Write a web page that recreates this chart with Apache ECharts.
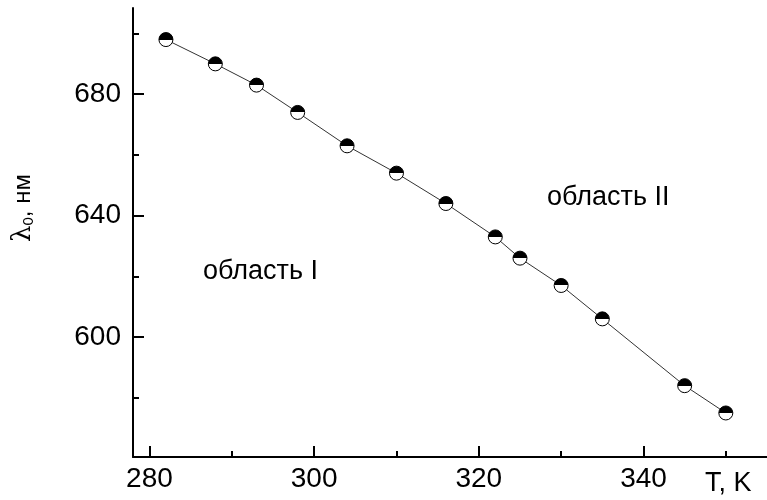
<!DOCTYPE html>
<html>
<head>
<meta charset="utf-8">
<script src="https://cdn.jsdelivr.net/npm/echarts@6/dist/echarts.min.js"></script>
<style>
html,body{margin:0;padding:0;background:#fff;}
#chart{width:767px;height:500px;}
</style>
</head>
<body>
<div id="chart"></div>
<script>
// Data
const temperatures = [282, 288, 293, 298, 304, 310, 316, 322, 325, 330, 335, 345, 350];
const lambda0 = [698, 690, 683, 674, 663, 654, 644, 633, 626, 617, 606, 584, 575];
const xMajorTicks = [280, 300, 320, 340];
const xMinorTicks = [290, 310, 330, 350];
const yMajorTicks = [600, 640, 680];
const yMinorTicks = [580, 620, 660, 700];
const yAxisTitle = ['λ', '0', ', нм'];
const xAxisTitle = 'T, K';
const regionLabels = ['область I', 'область II'];

const FONT = 'Liberation Sans, Arial, sans-serif';
const chart = echarts.init(document.getElementById('chart'), null, {renderer: 'canvas'});

const halfFill = {
  type: 'linear', x: 0, y: 0, x2: 0, y2: 1,
  colorStops: [
    {offset: 0, color: '#000'},
    {offset: 0.5, color: '#000'},
    {offset: 0.5, color: '#fff'},
    {offset: 1, color: '#fff'}
  ]
};

const xRange = {min: 278, max: 355};
const yRange = {min: 560.5, max: 708.4};

const option = {
  animation: false,
  backgroundColor: '#fff',
  grid: {left: 133, right: 0, top: 8, bottom: 43, containLabel: false},
  xAxis: [
    {
      type: 'value', ...xRange,
      axisLine: {show: true, lineStyle: {color: '#000', width: 2}},
      axisTick: {show: true, inside: true, length: 11, customValues: xMajorTicks, lineStyle: {color: '#000', width: 2}},
      axisLabel: {show: true, customValues: xMajorTicks, fontSize: 28, color: '#000', fontFamily: FONT, margin: 8},
      splitLine: {show: false}
    },
    {
      type: 'value', ...xRange, position: 'bottom',
      axisLine: {show: false},
      axisTick: {show: true, inside: true, length: 6, customValues: xMinorTicks, lineStyle: {color: '#000', width: 2}},
      axisLabel: {show: false},
      splitLine: {show: false}
    }
  ],
  yAxis: [
    {
      type: 'value', ...yRange,
      axisLine: {show: true, lineStyle: {color: '#000', width: 2}},
      axisTick: {show: true, inside: true, length: 11, customValues: yMajorTicks, lineStyle: {color: '#000', width: 2}},
      axisLabel: {show: true, customValues: yMajorTicks, fontSize: 28, color: '#000', fontFamily: FONT, margin: 12},
      splitLine: {show: false}
    },
    {
      type: 'value', ...yRange, position: 'left',
      axisLine: {show: false},
      axisTick: {show: true, inside: true, length: 6, customValues: yMinorTicks, lineStyle: {color: '#000', width: 2}},
      axisLabel: {show: false},
      splitLine: {show: false}
    }
  ],
  series: [{
    type: 'line',
    xAxisIndex: 0, yAxisIndex: 0,
    data: temperatures.map((t, i) => [t, lambda0[i]]),
    symbol: 'circle',
    symbolSize: 14,
    showSymbol: true,
    lineStyle: {color: '#333', width: 1},
    itemStyle: {color: halfFill, borderColor: '#000', borderWidth: 1},
    emphasis: {disabled: true},
    z: 3
  }],
  graphic: [
    {
      type: 'text', x: 23, y: 208, rotation: Math.PI / 2,
      style: {
        text: '{a|' + yAxisTitle[0] + '}{s|' + yAxisTitle[1] + '}{b|' + yAxisTitle[2] + '}',
        align: 'center', verticalAlign: 'middle',
        rich: {
          a: {fontSize: 26, fontFamily: 'DejaVu Serif, serif', fill: '#000'},
          s: {fontSize: 15, fontFamily: FONT, fill: '#000', padding: [12, 0, 0, 0]},
          b: {fontSize: 24, fontFamily: FONT, fill: '#000'}
        }
      }
    },
    {
      type: 'text', x: 203, y: 272,
      style: {text: regionLabels[0], fontSize: 27, fontFamily: FONT, fill: '#000', align: 'left', verticalAlign: 'middle'}
    },
    {
      type: 'text', x: 547, y: 198,
      style: {text: regionLabels[1], fontSize: 27, fontFamily: FONT, fill: '#000', align: 'left', verticalAlign: 'middle'}
    },
    {
      type: 'text', x: 705, y: 484,
      style: {text: xAxisTitle, fontSize: 27, fontFamily: FONT, fill: '#000', align: 'left', verticalAlign: 'middle'}
    }
  ]
};
chart.setOption(option);
</script>
</body>
</html>
